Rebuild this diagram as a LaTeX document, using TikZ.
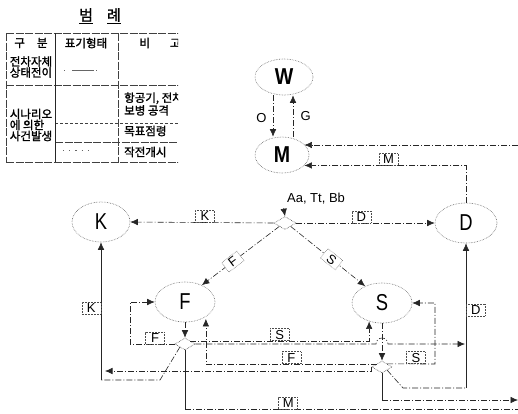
\documentclass[tikz,border=0pt]{standalone}
\usepackage{graphicx}
\usepackage{fontspec}
\setmainfont{Liberation Sans}
\newfontfamily\kr[FakeBold=1.6]{Noto Sans CJK KR}
\usetikzlibrary{shapes.geometric,arrows.meta,calc}
\begin{document}
\begin{tikzpicture}[x=1pt,y=-1pt,
  ell/.style={ellipse,draw=black!60,densely dotted,line width=0.6pt,inner sep=0pt},
  big/.style={font=\fontsize{23}{23}\selectfont},
  junc/.style={diamond,draw=black!70,densely dotted,line width=0.6pt,inner sep=0pt,minimum width=22pt,minimum height=13pt},
  conn/.style={line width=0.6pt,draw=black!85,dash pattern=on 6pt off 2pt on 1pt off 2pt},
  solidc/.style={line width=0.6pt,draw=black!85},
  arr/.style={-{Latex[length=7.5pt,width=6.5pt]}},
  lbox/.style={draw=black!70,densely dotted,line width=0.5pt,inner sep=1pt,minimum width=19pt,minimum height=12pt,font=\fontsize{13}{13}\selectfont},
  lab/.style={font=\fontsize{13}{13}\selectfont},
  krt/.style={font=\kr\fontsize{11.5}{11}\selectfont,inner sep=0pt},
  tline/.style={line width=0.6pt,black!75,dash pattern=on 8pt off 1.5pt}
]
\useasboundingbox (0,0) rectangle (518,413);
% ---------------- legend
\begin{scope}
\clip (0,0) rectangle (178,170);
\node[krt,font=\kr\fontsize{15}{15}\selectfont] (ttl) at (100,16) {\underline{범}\hspace{14pt}\underline{례}};
\draw[tline] (6,33) -- (180,33);
\draw[tline] (6,85) -- (180,85);
\draw[tline,dash pattern=on 3pt off 2pt] (55,123) -- (180,123);
\draw[tline] (55,142) -- (180,142);
\draw[tline] (6,162) -- (180,162);
\draw[tline] (6,33) -- (6,162);
\draw[line width=0.7pt,black!85] (55,33) -- (55,162);
\draw[tline] (118,33) -- (118,162);
\node[krt] (h1) at (31,43) {구\hspace{12pt}분};
\node[krt] (h2) at (86,43) {표기형태};
\node[krt] (h3) at (160,43) {비\hspace{20pt}고};
\node[krt,align=left] (r1) at (31,67) {전차자체\\상태전이};
\node[krt,align=left] (r2) at (31,125) {시나리오\\에 의한\\사건발생};
\node[krt,align=left,anchor=west] (c1) at (124,104) {항공기, 전차,\\보병 공격};
\node[krt,anchor=west] (c2) at (124,131) {목표점령};
\node[krt,anchor=west] (c3) at (124,152) {작전개시};
\draw[black!60,dash pattern=on 1pt off 7pt on 22pt off 2pt,line width=0.6pt] (64,70) -- (102,70);
\draw[black!60,dash pattern=on 1.2pt off 5pt,line width=0.8pt] (63,150) -- (92,150);
\end{scope}
% ---------------- nodes
\node[ell,big,minimum width=58pt,minimum height=36pt] (W) at (284,77) {\bfseries\scalebox{0.85}[1]{W}};
\node[ell,big,minimum width=54pt,minimum height=36pt] (M) at (282,155) {\bfseries\scalebox{0.85}[1]{M}};
\node[ell,big,minimum width=58pt,minimum height=40pt] (K) at (101,222) {\scalebox{0.8}[1]{K}};
\node[ell,big,minimum width=62pt,minimum height=40pt] (D) at (466,223) {\scalebox{0.8}[1]{D}};
\node[ell,big,minimum width=60pt,minimum height=40pt] (F) at (185,302) {\scalebox{0.8}[1]{F}};
\node[ell,big,minimum width=60pt,minimum height=40pt] (S) at (382,303) {\scalebox{0.8}[1]{S}};
\node[junc] (J) at (285,223) {};
\node[junc,minimum width=20pt,minimum height=12pt] (FH) at (185,344) {};
\node[junc,minimum width=20pt,minimum height=12pt] (SH) at (382,367) {};
\node[font=\fontsize{13}{13}\selectfont] (aa) at (316,199) {Aa, Tt, Bb};
% ---------------- coordinates
\coordinate (Rtop) at (518,145);
\coordinate (kc1) at (160,380);
\coordinate (kc2) at (101,380);
\coordinate (kin) at (105,371);
\coordinate (dj) at (465,344);
\coordinate (dc1) at (403,388);
\coordinate (dc2) at (466,388);
\coordinate (sout) at (518,400);
\coordinate (mout) at (518,409);
\coordinate (fl) at (130,344);
\coordinate (sl) at (435,364);
% ---------------- connectors
\draw[conn,arr] ([xshift=-11pt]W.south) -- node[lab,pos=.55,left=3pt]{O} ([xshift=-9pt]M.north);
\draw[conn,arr] ([xshift=11pt]M.north) -- node[lab,pos=.5,right=4pt]{G} ([xshift=9pt]W.south);
\draw[conn,arr] (Rtop) -- (M.25 |- Rtop);
\draw[conn,arr] (D.north) |- node[lbox,pos=.74,above]{M} (M.-25);
\draw[solidc,arr] (aa.south west) -- (J.north);
\draw[conn,arr] (J.west) -- node[lbox,pos=.48,above]{K} (K.east);
\draw[conn,arr] (J.east) -- node[lbox,pos=.47,above]{D} (D.west);
\draw[conn,arr] (J.south west) -- node[lbox,fill=white,pos=.6,sloped]{F} (F.45);
\draw[conn,arr] (J.south east) -- node[lbox,fill=white,pos=.55,sloped]{S} (S.135);
\draw[conn] (FH.south west) -- (kc1) -- (kc2);
\draw[solidc,arr] (kc2) -- node[lbox,pos=.52,left=0pt]{K} (K.south);
\draw[conn,arr] (SH.west) -- (SH.west |- kin) -- (kin);
\draw[conn,arr] (SH.north west) -| node[lbox,pos=.25,above]{F} ([xshift=4pt]F.-45);
\draw[conn,arr] (FH.north east) -| node[lbox,pos=.25,above]{S} (S.-125);
\draw[conn,arr] (FH.east) -- ($(S.south |- FH.east)+(-6,0)$) arc[start angle=180,end angle=0,radius=6pt] -- (dj);
\draw[conn,arr] (SH.north east) -- node[lbox,pos=.6,above]{S} (sl) |- (S.east);
\draw[conn] (SH.south east) -- (dc1) -- (dc2);
\draw[solidc,arr] (dc2) -- node[lbox,pos=.54,right=0pt]{D} (D.south);
\draw[solidc] (SH.south) -- (SH.south |- sout);
\draw[conn,arr] (SH.south |- sout) -- (sout);
\draw[solidc] (FH.south) -- (FH.south |- mout);
\draw[conn] (FH.south |- mout) -- node[lbox,pos=.31,above]{M} (mout);
\draw[conn,arr] (FH.west) -- node[lbox,pos=.44,above]{F} (fl) |- (F.west);
\draw[conn,arr] (F.south) -- (FH.north);
\draw[conn,arr] (S.south) -- (SH.north);
\end{tikzpicture}
\end{document}
